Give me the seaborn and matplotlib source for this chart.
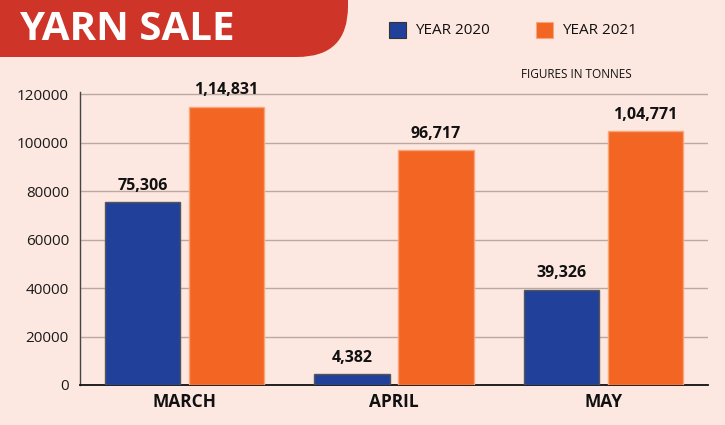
import matplotlib
matplotlib.use("Agg")
import matplotlib.pyplot as plt
import seaborn as sns
import pandas as pd
from matplotlib.patches import FancyBboxPatch, Rectangle
from matplotlib.ticker import FixedLocator

months = ["MARCH", "APRIL", "MAY"]
sales_2020 = [75306, 4382, 39326]
sales_2021 = [114831, 96717, 104771]
labels_2020 = ["75,306", "4,382", "39,326"]
labels_2021 = ["1,14,831", "96,717", "1,04,771"]
series = ["YEAR 2020", "YEAR 2021"]
yticks = [0, 20000, 40000, 60000, 80000, 100000, 120000]

bg = "#FCE8E0"
blue = "#21409A"
orange = "#F26522"
red = "#CF3429"

df = pd.DataFrame({
    "month": months * 2,
    "series": [series[0]] * 3 + [series[1]] * 3,
    "value": sales_2020 + sales_2021,
})

sns.set_theme(style="white")
plt.rcParams["font.family"] = ["Open Sans", "DejaVu Sans"]

fig = plt.figure(figsize=(7.25, 4.25), dpi=100, facecolor=bg)
ax = fig.add_axes([80 / 725, 1 - 385 / 425, (708 - 80) / 725, (385 - 92) / 425])
ax.set_facecolor(bg)

sns.barplot(data=df, x="month", y="value", hue="series", order=months,
            hue_order=series, palette=[blue, orange], width=0.8, gap=0.1,
            legend=False, ax=ax, saturation=1)

for i, p in enumerate(ax.patches):
    if i < 3:
        p.set_edgecolor("#555555")
    else:
        p.set_edgecolor("#F9A57A")
    p.set_linewidth(1.0)
    p.set_joinstyle("miter")
    p.set_zorder(3)

for c, labs in zip(ax.containers, [labels_2020, labels_2021]):
    ax.bar_label(c, labels=labs, padding=6, fontsize=11.5, fontweight="bold",
                 color="#111111")

ax.set_ylim(0, 120825)
ax.set_xlim(-0.5, 2.5)
ax.set_yticks(yticks)
ax.set_yticklabels([str(v) for v in yticks], fontsize=11, color="#1a1a1a")
ax.yaxis.grid(True, color="#BBA8A0", linewidth=1.0)
ax.set_axisbelow(True)
ax.tick_params(axis="y", length=0, pad=8)
ax.tick_params(axis="x", which="major", length=0, pad=6)
ax.set_xticks(range(len(months)))
ax.set_xticklabels(months, fontsize=12.5, fontweight="bold", color="#111111")
ax.xaxis.set_minor_locator(FixedLocator([0.5, 1.5, 2.5]))
ax.tick_params(axis="x", which="minor", direction="in", length=7, width=1.0,
               color="#444444")
ax.set_xlabel("")
ax.set_ylabel("")
for s in ["top", "right"]:
    ax.spines[s].set_visible(False)
ax.spines["bottom"].set_color("#111111")
ax.spines["bottom"].set_linewidth(1.3)
ax.spines["left"].set_color("#444444")
ax.spines["left"].set_linewidth(1.0)

# Title banner
W, H = 725, 425
banner = FancyBboxPatch((-60 / W, 1 - 57 / H), 408 / W, 120 / H,
                        boxstyle="round,pad=0,rounding_size=0.07",
                        transform=fig.transFigure, facecolor=red,
                        edgecolor="none", mutation_aspect=W / H)
fig.patches.append(banner)
fig.text(19 / W, 1 - 30 / H, "YARN SALE", fontsize=29, fontweight="bold",
         color="white", va="center", ha="left")

# Legend
for x0, col, ec, name in [(389, blue, "#333333", series[0]),
                          (536, orange, "#F9A57A", series[1])]:
    fig.patches.append(Rectangle((x0 / W, 1 - 38 / H), 17 / W, 16 / H,
                                 transform=fig.transFigure, facecolor=col,
                                 edgecolor=ec, linewidth=0.8))
    fig.text((x0 + 26) / W, 1 - 30 / H, name, fontsize=11, color="#111111",
             va="center", ha="left")

fig.text(521 / W, 1 - 75 / H, "FIGURES IN TONNES", fontsize=8.5,
         color="#111111", va="center", ha="left")

fig.savefig("out.png", dpi=100, facecolor=bg)
